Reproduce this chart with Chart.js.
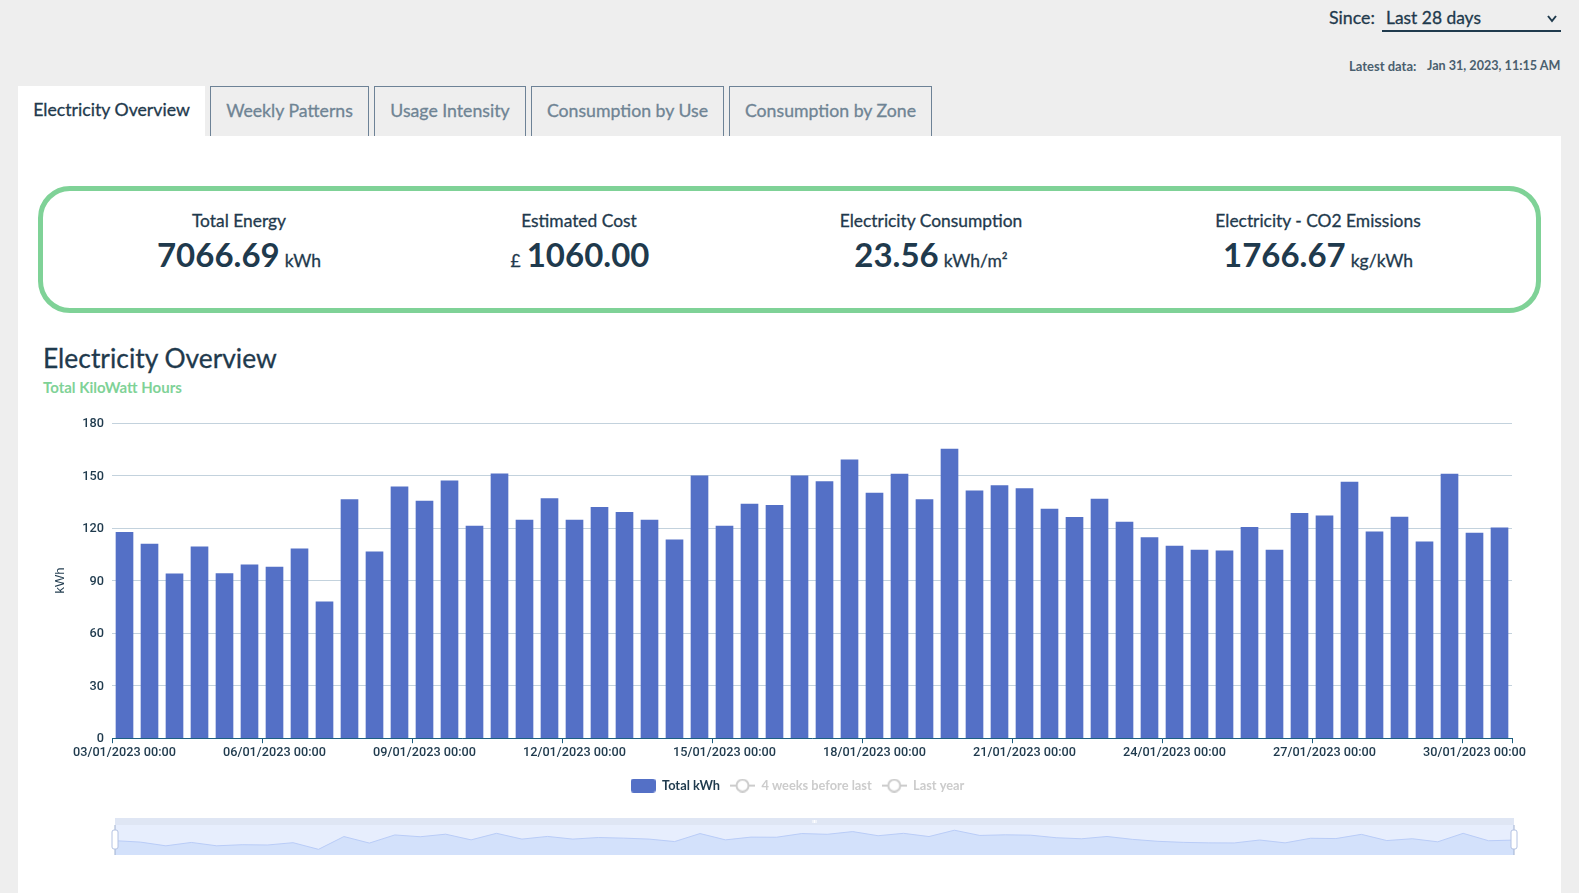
<!DOCTYPE html>
<html>
<head>
<meta charset="utf-8">
<title>Electricity Overview</title>
<script src="https://cdn.jsdelivr.net/npm/chart.js@4/dist/chart.umd.min.js"></script>
<style>
  html, body { margin: 0; padding: 0; width: 1579px; height: 893px; overflow: hidden; background: #eeeeee; }
  body { position: relative; font-family: Lato, sans-serif; color: #1f3a4d; }
  .abs { position: absolute; white-space: nowrap; }
  .med { -webkit-text-stroke: 0.3px currentColor; }
  #panel { position: absolute; left: 18px; top: 136px; width: 1543px; height: 757px; background: #fff; }
  .tab { position: absolute; top: 86px; height: 50px; box-sizing: border-box; border: 1px solid #6d8296; border-bottom: 0;
         font-size: 17.7px; color: #6f8494; text-align: center; line-height: 48px; -webkit-text-stroke: 0.3px currentColor; }
  .tab.active { background: #fff; border: 0; color: #1f3a4d; line-height: 48px; }
  #kpi { position: absolute; left: 38px; top: 186px; width: 1503px; height: 127px; box-sizing: border-box;
         border: 5px solid #7fd297; border-radius: 32px; }
  .kpi-label { position: absolute; top: 210px; transform: translateX(-50%); font-size: 17.4px; white-space: nowrap; -webkit-text-stroke: 0.3px currentColor; }
  .kpi-value { position: absolute; top: 234px; transform: translateX(-50%); font-size: 33px; font-weight: 700; white-space: nowrap; }
  .kpi-value small { font-size: 17.5px; font-weight: 400; -webkit-text-stroke: 0.3px currentColor; }
  .kpi-value small.after { margin-left: 5px; }
  .kpi-value small.before { margin-right: 6px; }
  canvas { position: absolute; }
</style>
</head>
<body>
<div class="abs med" style="left:1329px;top:6px;font-size:17.8px">Since:</div>
<div class="abs med" style="left:1386px;top:7px;font-size:17.4px">Last 28 days</div>
<svg class="abs" style="left:1546px;top:14px" width="12" height="10"><path d="M2 2 L6 7 L10 2" fill="none" stroke="#1f3a4d" stroke-width="2"/></svg>
<div class="abs" style="left:1382px;top:30px;width:179px;height:2px;background:#1f3a4d"></div>
<div class="abs" style="left:1349px;top:58px;font-size:13px;font-weight:700;color:#4a5f6e">Latest data:</div>
<div class="abs" style="left:1427px;top:58px;font-size:12.6px;font-weight:700;color:#4a5f6e">Jan 31, 2023, 11:15 AM</div>

<div id="panel"></div>
<div class="tab active" style="left:18px;width:187px">Electricity Overview</div>
<div class="tab" style="left:210px;width:159px">Weekly Patterns</div>
<div class="tab" style="left:374px;width:152px">Usage Intensity</div>
<div class="tab" style="left:531px;width:193px">Consumption by Use</div>
<div class="tab" style="left:729px;width:203px">Consumption by Zone</div>

<div id="kpi"></div>
<div class="kpi-label" style="left:239px">Total Energy</div>
<div class="kpi-value" style="left:239px">7066.69<small class="after">kWh</small></div>
<div class="kpi-label" style="left:579px">Estimated Cost</div>
<div class="kpi-value" style="left:580px"><small class="before">£</small>1060.00</div>
<div class="kpi-label" style="left:931px">Electricity Consumption</div>
<div class="kpi-value" style="left:931px">23.56<small class="after">kWh/m²</small></div>
<div class="kpi-label" style="left:1318px">Electricity - CO2 Emissions</div>
<div class="kpi-value" style="left:1318px">1766.67<small class="after">kg/kWh</small></div>

<div class="abs med" style="left:43px;top:342px;font-size:26.4px">Electricity Overview</div>
<div class="abs" style="left:43px;top:378px;font-size:15px;font-weight:700;color:#7fd297">Total KiloWatt Hours</div>

<canvas id="main" width="1543" height="405" style="left:18px;top:405px"></canvas>
<canvas id="slider" width="1420" height="55" style="left:105px;top:810px"></canvas>

<script>
const days = ['03/01/2023','04/01/2023','05/01/2023','06/01/2023','07/01/2023','08/01/2023','09/01/2023',
  '10/01/2023','11/01/2023','12/01/2023','13/01/2023','14/01/2023','15/01/2023','16/01/2023',
  '17/01/2023','18/01/2023','19/01/2023','20/01/2023','21/01/2023','22/01/2023','23/01/2023',
  '24/01/2023','25/01/2023','26/01/2023','27/01/2023','28/01/2023','29/01/2023','30/01/2023'];
const categories = days.flatMap(d => [d + ' 00:00', d + ' 12:00']);

const totalKwh = [117.5,110.9,93.9,109.3,94,99,97.7,108.2,77.9,136.2,106.5,143.6,135.4,147,
  121.1,151,124.6,136.8,124.6,131.8,129,124.6,113.3,149.9,121.1,133.7,133,149.9,
  146.5,158.9,140,150.9,136.2,165.1,141.3,144.2,142.5,130.9,126.1,136.6,123.4,114.5,
  109.7,107.4,107,120.4,107.4,128.4,127,146.3,117.9,126.3,112.2,150.9,117.1,120.2];
const yTicks = [0,30,60,90,120,150,180];

const BAR = '#5470c6', INK = '#1f3a4d', OFF = '#cccccc';
const TICK_EVERY = 6;

function icon(draw) {
  const c = document.createElement('canvas');
  c.width = 25; c.height = 14;
  draw(c.getContext('2d'));
  return c;
}
const barIcon = icon(g => {
  g.fillStyle = BAR;
  g.beginPath(); g.roundRect(0, 0, 25, 14, 3); g.fill();
});
const lineIcon = icon(g => {
  g.strokeStyle = OFF; g.lineWidth = 2;
  g.beginPath(); g.moveTo(0, 7); g.lineTo(25, 7); g.stroke();
  g.fillStyle = '#fff';
  g.beginPath(); g.arc(12.5, 7, 6, 0, Math.PI * 2); g.fill(); g.stroke();
});

new Chart(document.getElementById('main'), {
  type: 'bar',
  data: {
    labels: categories,
    datasets: [
      { label: 'Total kWh', data: totalKwh, backgroundColor: BAR, barThickness: 17 },
      { label: '4 weeks before last', type: 'line', data: [], borderColor: OFF },
      { label: 'Last year', type: 'line', data: [], borderColor: OFF }
    ]
  },
  options: {
    responsive: false,
    animation: false,
    // left padding moves the centred legend over; the y scale width below makes up for it
    layout: { padding: { top: 18, left: 65, right: 49, bottom: 8 } },
    plugins: {
      tooltip: { enabled: false },
      legend: {
        position: 'bottom',
        onClick: null,
        labels: {
          usePointStyle: true,
          pointStyleWidth: 25,
          padding: 10,
          font: { family: 'Lato', size: 12.8, weight: '700' },
          generateLabels: chart => chart.data.datasets.map((d, i) => ({
            text: d.label,
            datasetIndex: i,
            pointStyle: i === 0 ? barIcon : lineIcon,
            fontColor: i === 0 ? INK : OFF,
            fillStyle: 'transparent',
            strokeStyle: 'transparent',
            lineWidth: 0
          }))
        }
      }
    },
    scales: {
      x: {
        offset: true,
        border: { color: '#1d5f80', width: 1 },
        grid: {
          offset: true,
          drawOnChartArea: false,
          tickLength: 5,
          tickColor: ctx => (ctx.index === undefined || ctx.index % TICK_EVERY === 0) ? '#1d5f80' : 'transparent'
        },
        ticks: {
          autoSkip: false,
          maxRotation: 0,
          minRotation: 0,
          padding: 2,
          color: INK,
          font: { family: 'Roboto', size: 12.7, weight: '500' },
          callback(value, index) { return index % TICK_EVERY === 0 ? this.getLabelForValue(value) : ''; }
        },
        afterFit(scale) { scale.height = 31; }
      },
      y: {
        min: 0,
        max: 180,
        border: { display: false },
        afterBuildTicks(scale) { scale.ticks = yTicks.map(v => ({ value: v })); },
        grid: { color: '#c3d2dd', drawTicks: false },
        ticks: { padding: 8, labelOffset: 1, color: INK, font: { family: 'Roboto', size: 12.7, weight: '500' } },
        title: {
          display: true,
          text: 'kWh',
          color: INK,
          padding: { top: -30, bottom: 0 },
          font: { family: 'Liberation Sans', size: 13 }
        },
        afterFit(scale) { scale.width = 29; }
      }
    }
  }
});

// frame of the range slider, drawn around the small area chart
const sliderFrame = {
  id: 'sliderFrame',
  beforeDatasetsDraw(chart) {
    const { ctx, chartArea: a } = chart;
    ctx.save();
    ctx.fillStyle = '#dfe6f4';
    ctx.fillRect(a.left, a.top - 7, a.width, 7);
    ctx.fillStyle = '#e7eefd';
    ctx.fillRect(a.left, a.top, a.width, a.height);
    ctx.restore();
  },
  afterDatasetsDraw(chart) {
    const { ctx, chartArea: a } = chart;
    ctx.save();
    ctx.strokeStyle = '#ffffff';
    ctx.beginPath();
    [-1.5, 0, 1.5].forEach(d => {
      const x = (a.left + a.right) / 2 + d;
      ctx.moveTo(x, a.top - 5); ctx.lineTo(x, a.top - 2);
    });
    ctx.stroke();
    [a.left, a.right].forEach(x => {
      ctx.strokeStyle = '#9fb0cf';
      ctx.beginPath(); ctx.moveTo(x, a.top); ctx.lineTo(x, a.bottom); ctx.stroke();
      ctx.fillStyle = '#ffffff';
      ctx.strokeStyle = '#b4c2e2';
      ctx.beginPath(); ctx.roundRect(x - 3, a.top + 5, 6, 19, 2); ctx.fill(); ctx.stroke();
    });
    ctx.restore();
  }
};

new Chart(document.getElementById('slider'), {
  type: 'line',
  data: {
    labels: categories,
    datasets: [{
      data: totalKwh,
      borderColor: '#b9ccf7',
      borderWidth: 1,
      backgroundColor: '#d3e1fb',
      fill: 'start',
      pointRadius: 0,
      tension: 0
    }]
  },
  plugins: [sliderFrame],
  options: {
    responsive: false,
    animation: false,
    layout: { padding: { left: 10, right: 11, top: 15, bottom: 10 } },
    plugins: { legend: { display: false }, tooltip: { enabled: false } },
    scales: {
      x: { display: false },
      y: { display: false, min: 52, max: 189 }
    }
  }
});
</script>
</body>
</html>
